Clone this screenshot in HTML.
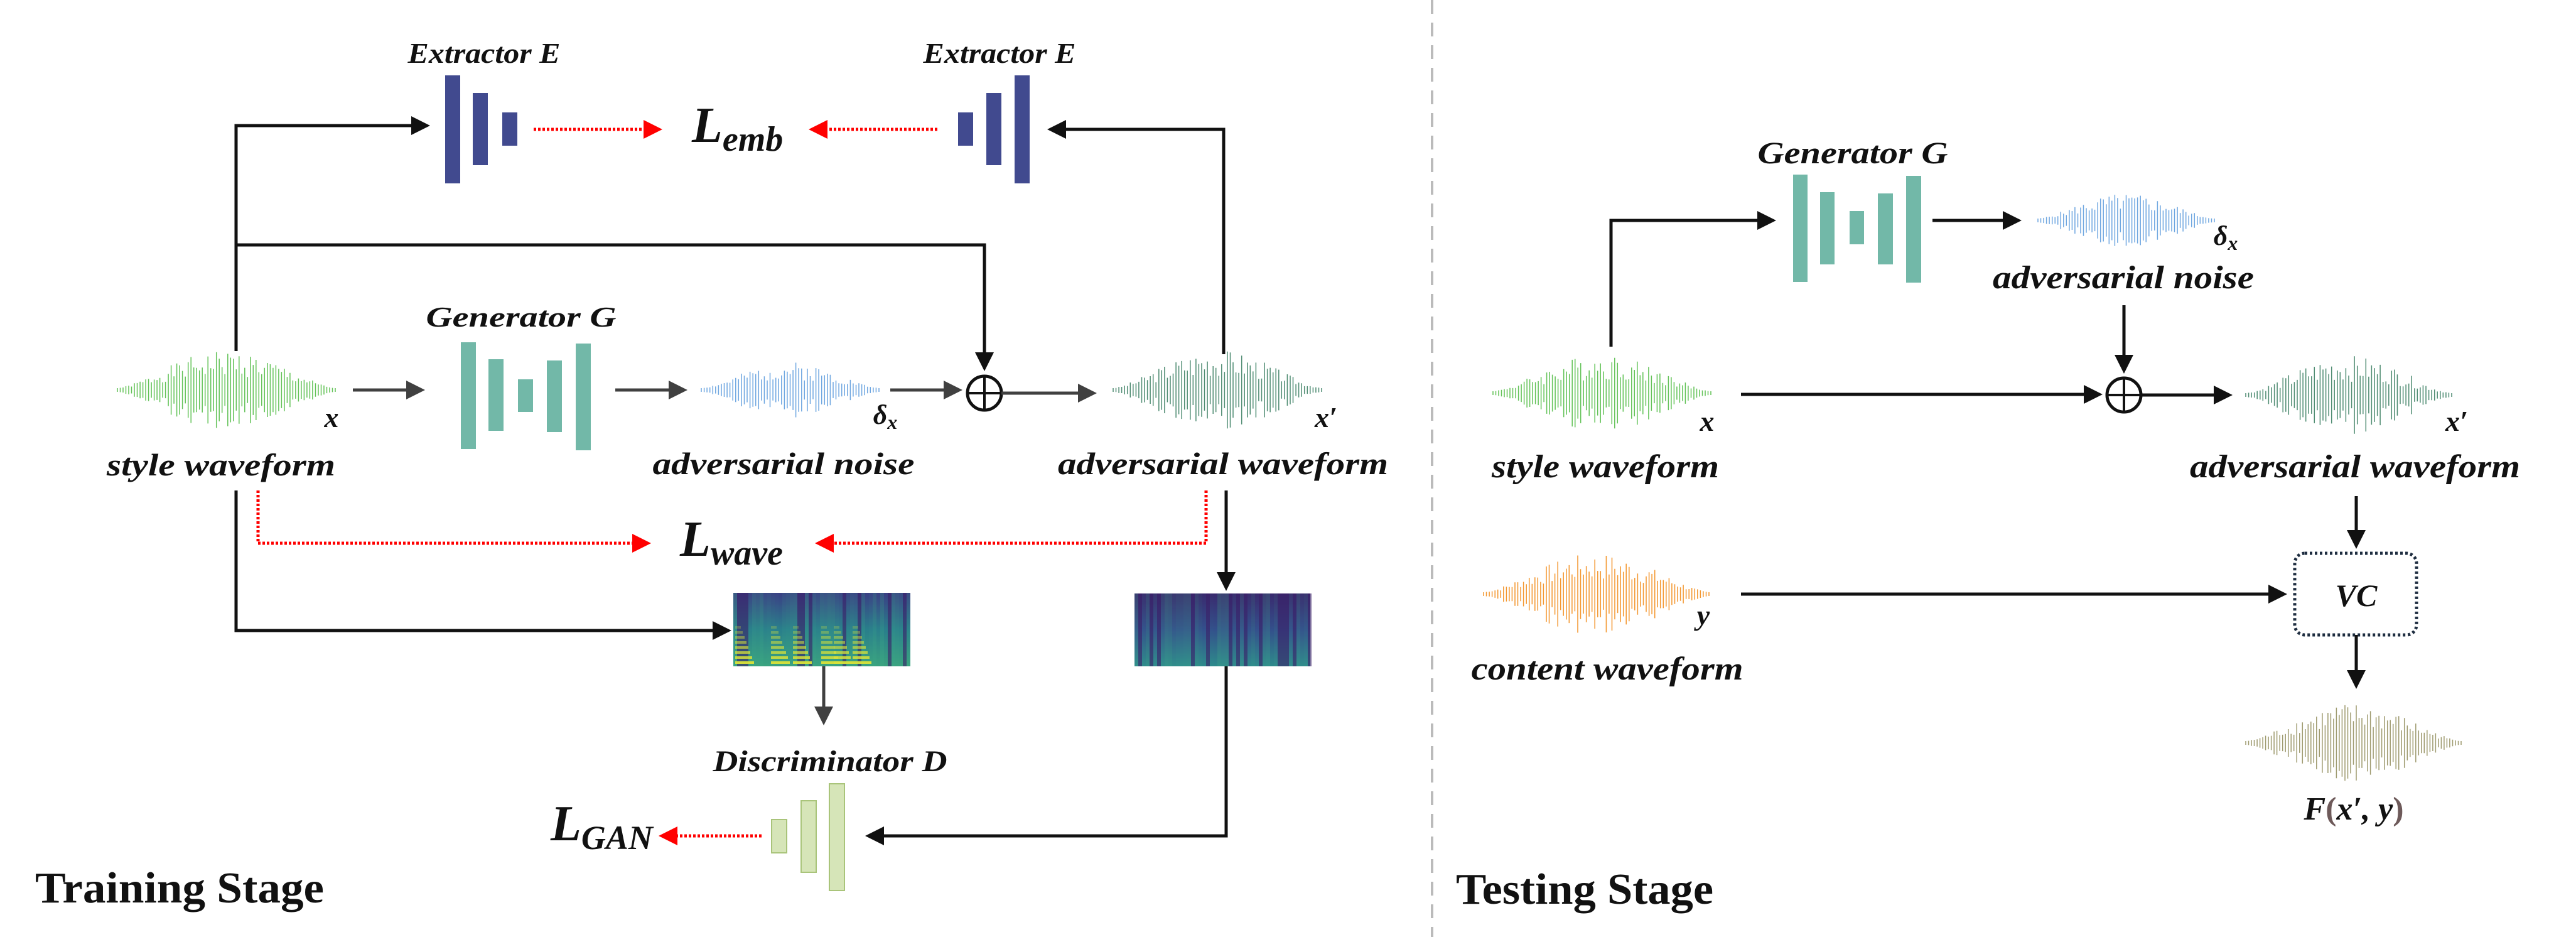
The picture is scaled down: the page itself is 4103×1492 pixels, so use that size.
<!DOCTYPE html>
<html><head><meta charset="utf-8"><style>
html,body{margin:0;padding:0;background:#fff;}
svg{display:block;}
text{font-family:"Liberation Serif",serif;font-weight:bold;font-style:italic;fill:#111;}
.st{font-style:normal;}
</style></head><body>
<svg id="s" width="4103" height="1492" viewBox="0 0 4103 1492" xmlns="http://www.w3.org/2000/svg">
<defs>
<marker id="ab" markerWidth="6" markerHeight="6" refX="5" refY="3" orient="auto" markerUnits="strokeWidth"><path d="M0,0 L6,3 L0,6 z" fill="#111"/></marker>
<marker id="ag" markerWidth="6" markerHeight="6" refX="5" refY="3" orient="auto" markerUnits="strokeWidth"><path d="M0,0 L6,3 L0,6 z" fill="#404040"/></marker>
<marker id="ar" markerWidth="6" markerHeight="6" refX="5" refY="3" orient="auto" markerUnits="strokeWidth"><path d="M0,0 L6,3 L0,6 z" fill="#f00"/></marker>
<linearGradient id="sp1" x1="0" y1="0" x2="0" y2="1"><stop offset="0" stop-color="#3b3f85"/><stop offset="0.5" stop-color="#2a7f8c"/><stop offset="1" stop-color="#3aa27f"/></linearGradient>
<linearGradient id="sp2" x1="0" y1="0" x2="0" y2="1"><stop offset="0" stop-color="#3a2a6e"/><stop offset="0.5" stop-color="#34508c"/><stop offset="1" stop-color="#2f8a8c"/></linearGradient>
</defs>

<line x1="2281" y1="0" x2="2281" y2="1492" stroke="#bbb" stroke-width="4" stroke-dasharray="22 14"/>

<!-- ===== TRAINING ===== -->
<text x="771" y="100" font-size="46" text-anchor="middle" textLength="243" lengthAdjust="spacingAndGlyphs">Extractor E</text>
<rect x="709" y="120" width="24" height="172" fill="#414a8f"/>
<rect x="753" y="148" width="24" height="115" fill="#414a8f"/>
<rect x="800" y="179" width="24" height="53" fill="#414a8f"/>

<text x="1592" y="100" font-size="46" text-anchor="middle" textLength="243" lengthAdjust="spacingAndGlyphs">Extractor E</text>
<rect x="1526" y="179" width="24" height="53" fill="#414a8f"/>
<rect x="1571" y="148" width="24" height="115" fill="#414a8f"/>
<rect x="1616" y="120" width="24" height="172" fill="#414a8f"/>

<line x1="850" y1="206" x2="1050" y2="206" stroke="#f00" stroke-width="5" stroke-dasharray="4 3" marker-end="url(#ar)"/>
<line x1="1493" y1="206" x2="1293" y2="206" stroke="#f00" stroke-width="5" stroke-dasharray="4 3" marker-end="url(#ar)"/>
<text x="1102" y="226" font-size="80">L<tspan font-size="56" dy="14">emb</tspan></text>

<polyline points="376,559 376,200 680,200" fill="none" stroke="#111" stroke-width="5" marker-end="url(#ab)"/>
<polyline points="1949,564 1949,206 1673,206" fill="none" stroke="#111" stroke-width="5" marker-end="url(#ab)"/>
<polyline points="376,390 1568,390 1568,586" fill="none" stroke="#111" stroke-width="5" marker-end="url(#ab)"/>

<text x="830" y="520" font-size="46" text-anchor="middle" textLength="303" lengthAdjust="spacingAndGlyphs">Generator G</text>
<rect x="734" y="545" width="24" height="170" fill="#72b8a8"/>
<rect x="778" y="572" width="24" height="114" fill="#72b8a8"/>
<rect x="825" y="604" width="24" height="52" fill="#72b8a8"/>
<rect x="871" y="574" width="24" height="114" fill="#72b8a8"/>
<rect x="917" y="547" width="24" height="170" fill="#72b8a8"/>

<text x="528" y="680" font-size="46" text-anchor="middle">x</text>
<text x="352" y="757" font-size="50" text-anchor="middle" textLength="364" lengthAdjust="spacingAndGlyphs">style waveform</text>
<line x1="562" y1="621" x2="672" y2="621" stroke="#404040" stroke-width="5" marker-end="url(#ag)"/>
<line x1="980" y1="621" x2="1090" y2="621" stroke="#404040" stroke-width="5" marker-end="url(#ag)"/>
<text x="1410" y="675" font-size="44" text-anchor="middle">δ<tspan font-size="32" dy="8">x</tspan></text>
<text x="1248" y="755" font-size="50" text-anchor="middle" textLength="417" lengthAdjust="spacingAndGlyphs">adversarial noise</text>
<line x1="1418" y1="621" x2="1528" y2="621" stroke="#404040" stroke-width="5" marker-end="url(#ag)"/>
<circle cx="1568" cy="626" r="27" fill="none" stroke="#111" stroke-width="5"/>
<line x1="1541" y1="626" x2="1595" y2="626" stroke="#111" stroke-width="4"/>
<line x1="1568" y1="599" x2="1568" y2="653" stroke="#111" stroke-width="4"/>
<line x1="1595" y1="626" x2="1742" y2="626" stroke="#404040" stroke-width="5" marker-end="url(#ag)"/>
<text x="2112" y="680" font-size="46" text-anchor="middle">x′</text>
<text x="1948" y="755" font-size="50" text-anchor="middle" textLength="526" lengthAdjust="spacingAndGlyphs">adversarial waveform</text>

<polyline points="411,781 411,865 1032,865" fill="none" stroke="#f00" stroke-width="5" stroke-dasharray="4 3" marker-end="url(#ar)"/>
<polyline points="1921,781 1921,865 1303,865" fill="none" stroke="#f00" stroke-width="5" stroke-dasharray="4 3" marker-end="url(#ar)"/>
<text x="1083" y="885" font-size="80">L<tspan font-size="56" dy="14">wave</tspan></text>

<polyline points="376,781 376,1004 1160,1004" fill="none" stroke="#111" stroke-width="5" marker-end="url(#ab)"/>
<line x1="1953" y1="781" x2="1953" y2="936" stroke="#111" stroke-width="5" marker-end="url(#ab)"/>

<g id="spec1"></g>
<g id="spec2"></g>

<line x1="1312" y1="1061" x2="1312" y2="1150" stroke="#404040" stroke-width="5" marker-end="url(#ag)"/>
<text x="1322" y="1228" font-size="48" text-anchor="middle" textLength="373" lengthAdjust="spacingAndGlyphs">Discriminator D</text>
<rect x="1229" y="1305" width="24" height="53" fill="#d6e5b8" stroke="#a9c47a" stroke-width="2"/>
<rect x="1276" y="1275" width="24" height="114" fill="#d6e5b8" stroke="#a9c47a" stroke-width="2"/>
<rect x="1321" y="1248" width="24" height="170" fill="#d6e5b8" stroke="#a9c47a" stroke-width="2"/>
<polyline points="1953,1061 1953,1331 1383,1331" fill="none" stroke="#111" stroke-width="5" marker-end="url(#ab)"/>
<line x1="1213" y1="1331" x2="1054" y2="1331" stroke="#f00" stroke-width="5" stroke-dasharray="4 3" marker-end="url(#ar)"/>
<text x="877" y="1338" font-size="80">L<tspan font-size="54" dy="14">GAN</tspan></text>

<text class="st" x="56" y="1437" font-size="70" textLength="460" lengthAdjust="spacingAndGlyphs">Training Stage</text>

<!-- ===== TESTING ===== -->
<text x="2951" y="260" font-size="50" text-anchor="middle" textLength="303" lengthAdjust="spacingAndGlyphs">Generator G</text>
<rect x="2856" y="278" width="23" height="171" fill="#72b8a8"/>
<rect x="2899" y="306" width="23" height="115" fill="#72b8a8"/>
<rect x="2946" y="336" width="23" height="53" fill="#72b8a8"/>
<rect x="2991" y="308" width="24" height="113" fill="#72b8a8"/>
<rect x="3036" y="280" width="24" height="170" fill="#72b8a8"/>
<polyline points="2566,552 2566,351 2824,351" fill="none" stroke="#111" stroke-width="5" marker-end="url(#ab)"/>
<line x1="3078" y1="351" x2="3215" y2="351" stroke="#111" stroke-width="5" marker-end="url(#ab)"/>
<text x="3545" y="390" font-size="44" text-anchor="middle">δ<tspan font-size="32" dy="8">x</tspan></text>
<text x="3382" y="459" font-size="52" text-anchor="middle" textLength="416" lengthAdjust="spacingAndGlyphs">adversarial noise</text>
<line x1="3383" y1="486" x2="3383" y2="590" stroke="#111" stroke-width="5" marker-end="url(#ab)"/>
<circle cx="3383" cy="629" r="27" fill="none" stroke="#111" stroke-width="5"/>
<line x1="3356" y1="629" x2="3410" y2="629" stroke="#111" stroke-width="4"/>
<line x1="3383" y1="602" x2="3383" y2="656" stroke="#111" stroke-width="4"/>
<line x1="2773" y1="628" x2="3344" y2="628" stroke="#111" stroke-width="5" marker-end="url(#ab)"/>
<line x1="3410" y1="629" x2="3551" y2="629" stroke="#111" stroke-width="5" marker-end="url(#ab)"/>
<text x="2719" y="686" font-size="46" text-anchor="middle">x</text>
<text x="2557" y="760" font-size="52" text-anchor="middle" textLength="362" lengthAdjust="spacingAndGlyphs">style waveform</text>
<text x="3913" y="686" font-size="46" text-anchor="middle">x′</text>
<text x="3751" y="760" font-size="52" text-anchor="middle" textLength="526" lengthAdjust="spacingAndGlyphs">adversarial waveform</text>
<line x1="3753" y1="790" x2="3753" y2="869" stroke="#111" stroke-width="5" marker-end="url(#ab)"/>
<rect x="3655" y="881" width="194" height="130" rx="16" fill="none" stroke="#1e2d40" stroke-width="5" stroke-dasharray="4 4"/>
<text x="3753" y="965" font-size="50" text-anchor="middle">VC</text>
<line x1="2773" y1="946" x2="3638" y2="946" stroke="#111" stroke-width="5" marker-end="url(#ab)"/>
<text x="2713" y="995" font-size="46" text-anchor="middle">y</text>
<text x="2560" y="1082" font-size="52" text-anchor="middle" textLength="433" lengthAdjust="spacingAndGlyphs">content waveform</text>
<line x1="3753" y1="1011" x2="3753" y2="1092" stroke="#111" stroke-width="5" marker-end="url(#ab)"/>
<text x="3749" y="1305" font-size="52" text-anchor="middle">F<tspan fill="#6e5a5a" font-style="normal">(</tspan>x′, y<tspan fill="#6e5a5a" font-style="normal">)</tspan></text>
<text class="st" x="2319" y="1439" font-size="70" textLength="410" lengthAdjust="spacingAndGlyphs">Testing Stage</text>

<g id="waves"></g>
</svg>
<script>
(function(){
var NS="http://www.w3.org/2000/svg";
var g=document.getElementById("waves");
function rnd(seed){var s=seed;return function(){s=(s*9301+49297)%233280;return s/233280;};}
function wave(x0,x1,cy,amp,col,seed){
  var r=rnd(seed),n=Math.floor((x1-x0)/4.5),d="";
  for(var i=0;i<=n;i++){
    var x=x0+(x1-x0)*i/n,t=i/n;
    var env=Math.pow(Math.sin(Math.PI*t),1.4);
    var a=amp*env*(0.3+0.7*r())+3;
    d+="M"+x.toFixed(1)+","+(cy-a).toFixed(1)+"V"+(cy+a).toFixed(1);
  }
  var p=document.createElementNS(NS,"path");
  p.setAttribute("d",d);p.setAttribute("stroke",col);p.setAttribute("stroke-width","1.5");
  p.setAttribute("fill","none");g.appendChild(p);
}
wave(187,534,621,60,"#62c257",1);
wave(1117,1400,621,42,"#6ea6e0",2);
wave(1773,2105,621,62,"#4f8c72",3);
wave(2378,2725,626,60,"#62c257",4);
wave(3246,3527,351,40,"#6ea6e0",5);
wave(3577,3905,629,60,"#4f8c72",6);
wave(2363,2722,946,62,"#f3962e",7);
wave(3577,3920,1183,60,"#9e9a6e",8);

function spec(id,x,y,w,h,grad,seed,bright){
  var gg=document.getElementById(id),r=rnd(seed);
  var b=document.createElementNS(NS,"rect");
  b.setAttribute("x",x);b.setAttribute("y",y);b.setAttribute("width",w);b.setAttribute("height",h);
  b.setAttribute("fill","url(#"+grad+")");gg.appendChild(b);
  for(var i=0;i<w;i+=6){
    var v=r();
    var c=document.createElementNS(NS,"rect");
    c.setAttribute("x",x+i);c.setAttribute("y",y);c.setAttribute("width",6);c.setAttribute("height",h);
    if(v<0.3){c.setAttribute("fill","#3a1f68");c.setAttribute("opacity",0.6);}
    else {c.setAttribute("fill","#3fae86");c.setAttribute("opacity",0.25*r());}
    gg.appendChild(c);
  }
  if(bright){
    var xs=[3,60,95,140,160,190];
    for(var k=0;k<xs.length;k++){
      for(var j=0;j<8;j++){
        var c2=document.createElementNS(NS,"rect");
        c2.setAttribute("x",x+xs[k]);c2.setAttribute("y",y+h-8-j*8);c2.setAttribute("width",Math.max(8,30-j*3));c2.setAttribute("height",4);
        c2.setAttribute("fill","#d8e23a");c2.setAttribute("opacity",0.95-j*0.1);gg.appendChild(c2);
      }
    }
  }
}
spec("spec1",1168,944,282,117,"sp1",11,true);
spec("spec2",1807,945,280,116,"sp2",12,false);
})();
</script>
</body></html>
